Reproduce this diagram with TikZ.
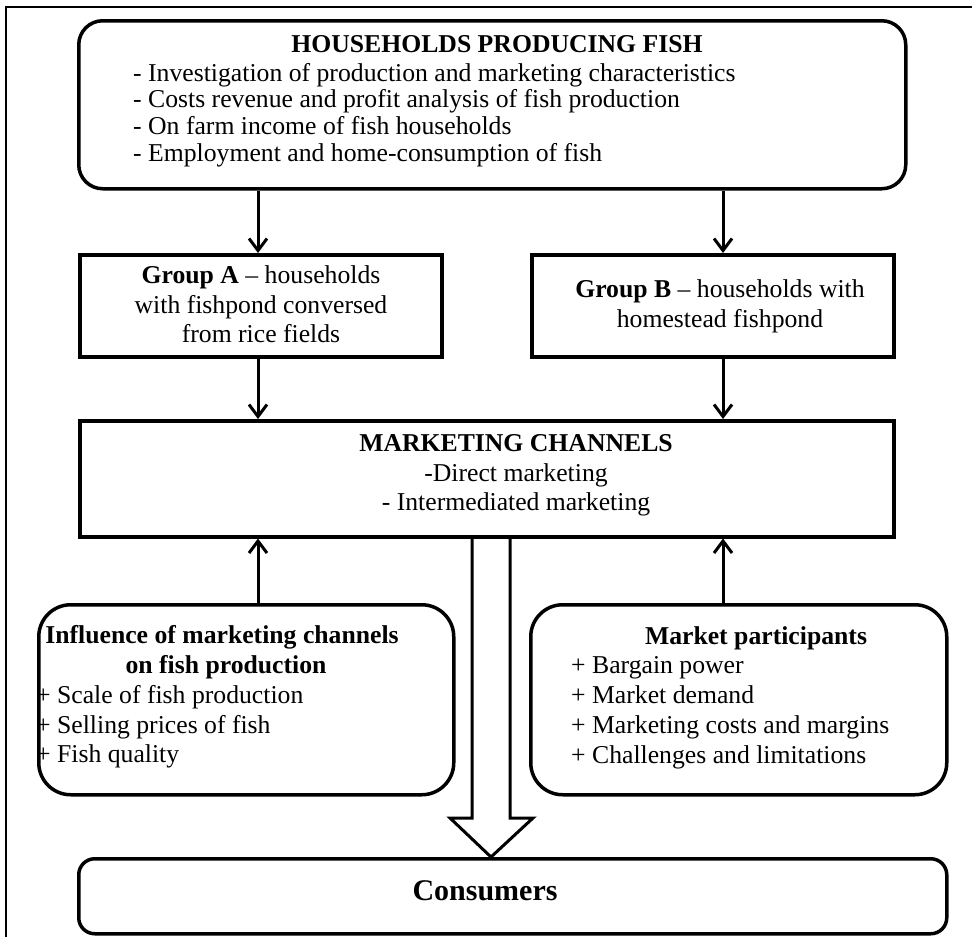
\documentclass[tikz,border=0pt]{standalone}
\usepackage{fontspec}
\setmainfont{Liberation Serif}
\usetikzlibrary{arrows.meta,calc}

\begin{document}
\begin{tikzpicture}[x=1pt,y=-1pt,
  box/.style={draw, line width=3.5pt, inner sep=0pt, anchor=north west},
  roundbox/.style={box, rounded corners=#1},
  txt/.style={inner sep=0pt, font=\fontsize{25.7}{30}\selectfont},
  head/.style={txt, font=\fontsize{25.7}{30}\selectfont\bfseries},
  arr/.style={line width=3pt, -{Straight Barb[length=12pt,width=18pt,line width=3pt]}},
  hollow/.style={line width=3pt, line join=miter},
  frame/.style={line width=1.8pt}
]
\useasboundingbox (0,0) rectangle (972,937);

% outer frame (only the top and left edges fall inside the page)
\draw[frame] (6,945) -- (6,7) -- (980,7);

% column positions of the vertical connectors
\coordinate (colA) at (258,0);
\coordinate (colB) at (723,0);
\coordinate (flow) at (491,0);

% boxes
\node[roundbox=24pt, minimum width=827pt, minimum height=168pt] (top) at (77,19) {};
\node[box, minimum width=362pt, minimum height=102pt] (gA) at (78,253) {};
\node[box, minimum width=362pt, minimum height=102pt] (gB) at (530,253) {};
\node[box, minimum width=814pt, minimum height=116pt] (mkt) at (78,419) {};
\node[roundbox=32pt, minimum width=415pt, minimum height=190pt] (inf) at (37,603) {};
\node[roundbox=32pt, minimum width=416pt, minimum height=190pt] (mp) at (529,603) {};
\node[roundbox=16pt, minimum width=868pt, minimum height=75pt] (cons) at (77,857) {};

% texts: households producing fish
\node[head, anchor=base] (topT) at (497,52) {HOUSEHOLDS PRODUCING FISH};
\node[txt, anchor=base west] (top1) at (133,81) {- Investigation of production and marketing characteristics};
\node[txt, anchor=base west] (top2) at (133,107.7) {- Costs revenue and profit analysis of fish production};
\node[txt, anchor=base west] (top3) at (133,134.3) {- On farm income of fish households};
\node[txt, anchor=base west] (top4) at (133,161) {- Employment and home-consumption of fish};

% group A
\node[txt, anchor=base] (gA1) at (261,283) {\textbf{Group A} – households};
\node[txt, anchor=base] (gA2) at (261,313) {with fishpond conversed};
\node[txt, anchor=base] (gA3) at (261,342) {from rice fields};

% group B
\node[txt, anchor=base] (gB1) at (720,297) {\textbf{Group B} – households with};
\node[txt, anchor=base] (gB2) at (720,327) {homestead fishpond};

% marketing channels
\node[head, anchor=base] (mktT) at (516,451) {MARKETING CHANNELS};
\node[txt, anchor=base] (mkt1) at (516,481) {-Direct marketing};
\node[txt, anchor=base] (mkt2) at (516,510) {- Intermediated marketing};

% influence of marketing channels
\node[head, anchor=base] (infT1) at (222,643) {Influence of marketing channels};
\node[head, anchor=base] (infT2) at (226,673) {on fish production};
\node[txt, anchor=base west] (inf1) at (36,703) {+ Scale of fish production};
\node[txt, anchor=base west] (inf2) at (36,733) {+ Selling prices of fish};
\node[txt, anchor=base west] (inf3) at (36,762) {+ Fish quality};

% market participants
\node[head, anchor=base] (mpT) at (756,644) {Market participants};
\node[txt, anchor=base west] (mp1) at (571,673) {+ Bargain power};
\node[txt, anchor=base west] (mp2) at (571,703) {+ Market demand};
\node[txt, anchor=base west] (mp3) at (571,733) {+ Marketing costs and margins};
\node[txt, anchor=base west] (mp4) at (571,763) {+ Challenges and limitations};

% consumers
\node[inner sep=0pt, anchor=base, font=\fontsize{30}{34}\selectfont\bfseries] (consT) at (485,900) {Consumers};

% connectors
\draw[arr] (top.south -| colA) -- (gA.north -| colA);
\draw[arr] (top.south -| colB) -- (gB.north -| colB);
\draw[arr] (gA.south -| colA) -- (mkt.north -| colA);
\draw[arr] (gB.south -| colB) -- (mkt.north -| colB);
\draw[arr] (inf.north -| colA) -- (mkt.south -| colA);
\draw[arr] (mp.north -| colB) -- (mkt.south -| colB);

% broad flow arrow from marketing channels to consumers
\draw[hollow] ($(mkt.south -| flow)+(-19,0)$) -- ($(cons.north -| flow)+(-19,-39)$)
  -- ++(-22,0) -- (cons.north -| flow) -- ++(42,-39) -- ++(-23,0)
  -- ($(mkt.south -| flow)+(19,0)$);
\end{tikzpicture}
\end{document}
